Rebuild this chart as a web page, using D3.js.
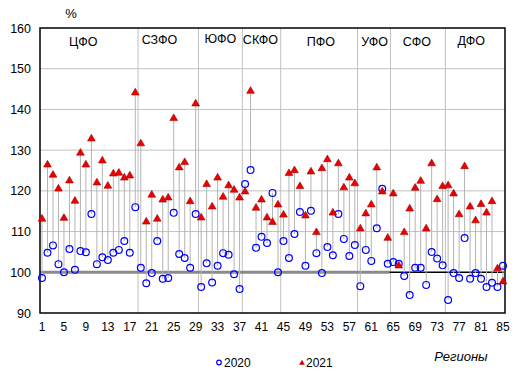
<!DOCTYPE html>
<html><head><meta charset="utf-8">
<script src="https://cdn.jsdelivr.net/npm/d3@7"></script>
<style>body{margin:0;background:#fff}svg{display:block;font-family:Arial,"Liberation Sans",sans-serif}</style>
</head><body><svg id="c" width="520" height="377"></svg>
<script>
const v2020 = [98.6,104.8,106.6,102.0,100.0,105.7,100.6,105.2,104.9,114.3,102.0,103.7,103.0,104.8,105.5,107.7,104.8,116.0,
 101.1,97.3,99.8,107.7,98.4,98.6,114.6,104.5,103.5,101.1,114.3,
 96.4,102.2,97.5,101.6,104.7,104.3,99.5,95.9,
 121.7,125.1,106.0,108.7,107.2,119.5,100.0,
 107.7,103.5,109.4,114.8,101.6,115.1,104.7,99.8,106.2,104.2,114.3,108.2,104.0,106.7,
 96.6,105.5,102.8,110.8,120.5,102.1,
 102.5,102.1,99.1,94.4,101.1,101.1,96.9,105.0,103.4,101.7,
 93.2,99.8,98.6,108.4,98.4,99.8,98.4,96.4,97.4,96.4,101.6];
const v2021 = [113.1,126.4,123.9,120.5,113.3,122.5,117.5,129.3,126.4,132.8,122.0,127.4,121.2,124.2,124.4,123.2,123.7,144.1,
 131.6,112.4,119.0,113.1,117.8,118.3,137.8,125.7,127.0,117.4,141.4,
 113.4,121.6,116.1,123.2,118.5,121.3,120.2,118.3,
 119.8,144.5,115.8,117.8,113.4,112.3,116.6,
 114.1,124.3,125.0,121.1,113.9,124.7,109.8,125.5,127.7,114.6,126.7,120.8,123.2,121.8,
 110.7,114.4,116.6,125.7,119.8,108.4,
 119.3,101.6,109.8,115.6,120.7,122.4,110.7,126.7,117.9,121.1,
 121.3,119.3,114.2,126.0,116.1,112.7,116.7,114.6,117.4,100.9,97.7];
const districts = ["ЦФО","СЗФО","ЮФО","СКФО","ПФО","УФО","СФО","ДФО"];
const districtCounts = [18,11,8,7,14,6,10,11];
const districtLabelAt = [8.5,22.4,33.5,40.8,51.8,61.6,69.3,79.2];
const xTicks = d3.range(1,86,4);
const yTicks = [90,100,110,120,130,140,150,160];
const seriesNames = ["2020","2021"];

const svg = d3.select("#c");
const L=40,T=28,R=505,B=313;
const x = d3.scaleLinear().domain([1,85]).range([42,503]);
const y = d3.scaleLinear().domain([90,160]).range([B,T]);
const g = svg.append("g");

// horizontal grid
g.selectAll(".hg").data(yTicks.filter(d=>d>100&&d<160)).join("line")
 .attr("x1",L).attr("x2",R).attr("y1",d=>y(d)).attr("y2",d=>y(d))
 .attr("stroke","#c0c0c0").attr("stroke-width",1);
// district boundaries
let cum=0; const bounds=[];
districtCounts.slice(0,-1).forEach(c=>{cum+=c;bounds.push(cum+0.5);});
g.selectAll(".vg").data(bounds).join("line")
 .attr("x1",d=>x(d)).attr("x2",d=>x(d)).attr("y1",T).attr("y2",B)
 .attr("stroke","#c0c0c0").attr("stroke-width",1);
// 100 line
g.append("line").attr("x1",L).attr("x2",x(85)+1).attr("y1",y(100)).attr("y2",y(100))
 .attr("stroke","#000").attr("stroke-width",1.5);
g.append("line").attr("x1",L).attr("x2",x(64.3)).attr("y1",y(100)).attr("y2",y(100))
 .attr("stroke","#8a8a8a").attr("stroke-width",3);
// hi-lo lines
g.selectAll(".hl").data(v2020).join("line")
 .attr("x1",(d,i)=>x(i+1)).attr("x2",(d,i)=>x(i+1))
 .attr("y1",d=>y(d)).attr("y2",(d,i)=>y(v2021[i]))
 .attr("stroke","#b4b4b4").attr("stroke-width",1);
// frame
g.append("rect").attr("x",L).attr("y",T).attr("width",R-L).attr("height",B-T)
 .attr("fill","none").attr("stroke","#000").attr("stroke-width",1.5);
// markers
g.selectAll(".c").data(v2020).join("circle")
 .attr("cx",(d,i)=>x(i+1)).attr("cy",d=>y(d)).attr("r",3.4)
 .attr("fill","none").attr("stroke","#0000ff").attr("stroke-width",1.2);
const tri = d3.symbol().type(d3.symbolTriangle).size(26);
g.selectAll(".t").data(v2021).join("path")
 .attr("d",tri).attr("transform",(d,i)=>`translate(${x(i+1)},${y(d)})`)
 .attr("fill","#ee0000").attr("stroke","#a00000").attr("stroke-width",0.6);

// axes labels
g.selectAll(".yl").data(yTicks).join("text")
 .attr("x",31).attr("y",d=>y(d)+4.5).attr("text-anchor","end")
 .attr("font-size",12.5).attr("fill","#000").text(d=>d);
g.selectAll(".xl").data(xTicks).join("text")
 .attr("x",d=>x(d)).attr("y",331).attr("text-anchor","middle")
 .attr("font-size",12).attr("fill","#000").text(d=>d);
g.append("text").attr("x",71).attr("y",18).attr("text-anchor","middle").attr("font-size",13).text("%");
g.append("text").attr("x",461).attr("y",361).attr("text-anchor","middle").attr("font-size",13)
 .attr("font-style","italic").text("Регионы");
// district labels
g.selectAll(".dl").data(districts).join("text")
 .attr("x",(d,i)=>x(districtLabelAt[i])).attr("y",(d,i)=>[46,44,43,44,46,46,46,45][i])
 .attr("text-anchor","middle").attr("font-size",12.5).text(d=>d);
// legend
g.append("circle").attr("cx",219).attr("cy",362.5).attr("r",2.3).attr("fill","none").attr("stroke","#0000ff").attr("stroke-width",1.2);
g.append("text").attr("x",224).attr("y",367).attr("font-size",12).text(seriesNames[0]);
g.append("path").attr("d",d3.symbol().type(d3.symbolTriangle).size(14)).attr("transform","translate(302,363)").attr("fill","#cc0000");
g.append("text").attr("x",306).attr("y",367).attr("font-size",12).text(seriesNames[1]);
</script></body></html>
